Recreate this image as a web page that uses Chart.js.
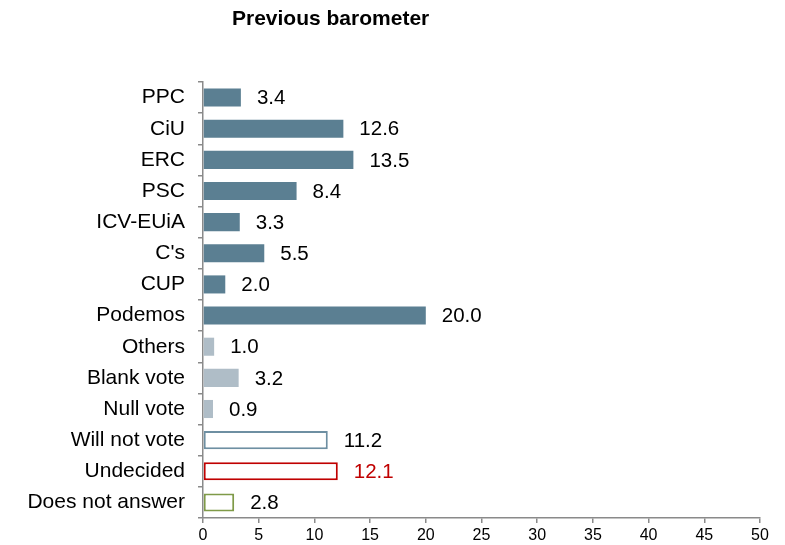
<!DOCTYPE html>
<html>
<head>
<meta charset="utf-8">
<script src="https://cdn.jsdelivr.net/npm/chart.js@4"></script>
<style>
  body { margin: 0; background: #fff; }
  #wrap { position: relative; width: 785px; height: 545px; }
  #title {
    position: absolute; left: 232px; top: 6px;
    font: bold 21px "Liberation Sans", Arial, sans-serif; color: #000;
  }
</style>
</head>
<body>
<div id="wrap">
  <div id="title">Previous barometer</div>
  <canvas id="chart" width="785" height="545"></canvas>
</div>
<script>
// Дані
const categories = ["PPC", "CiU", "ERC", "PSC", "ICV-EUiA", "C's", "CUP", "Podemos",
    "Others", "Blank vote", "Null vote", "Will not vote", "Undecided", "Does not answer"];
const values = [3.4, 12.6, 13.5, 8.4, 3.3, 5.5, 2.0, 20.0, 1.0, 3.2, 0.9, 11.2, 12.1, 2.8];

// Стилі
const dark = "#5B7F92", light = "#AFBDC7";
const fills = [dark, dark, dark, dark, dark, dark, dark, dark, light, light, light, "#fff", "#fff", "#fff"];
const borders = [dark, dark, dark, dark, dark, dark, dark, dark, light, light, light, "#6E8FA2", "#C00000", "#7F9A48"];
const borderWidths = [0, 0, 0, 0, 0, 0, 0, 0, 0, 0, 0, 2, 2, 2];
const labelColors = categories.map(c => c === "Undecided" ? "#C00000" : "#000");

const FONT = '"Liberation Sans", Arial, sans-serif';
const axisGray = "#8A8A8A";

// Підписи значень
const valueLabels = {
    id: "valueLabels",
    afterDatasetsDraw(chart) {
        const ctx = chart.ctx;
        const meta = chart.getDatasetMeta(0);
        ctx.save();
        ctx.font = "20.5px " + FONT;
        ctx.textBaseline = "middle";
        ctx.textAlign = "left";
        meta.data.forEach((bar, i) => {
            ctx.fillStyle = labelColors[i];
            ctx.fillText(values[i].toFixed(1), bar.x + 16, bar.y + 1);
        });
        ctx.restore();
    }
};

new Chart(document.getElementById("chart"), {
    type: "bar",
    data: {
        labels: categories,
        datasets: [{
            data: values,
            backgroundColor: fills,
            borderColor: borders,
            borderWidth: borderWidths,
            borderSkipped: false,
            barPercentage: 0.58,
            categoryPercentage: 1
        }]
    },
    options: {
        indexAxis: "y",
        responsive: false,
        animation: false,
        layout: { padding: { top: 82, right: 25, left: 0, bottom: 0 } },
        plugins: {
            legend: { display: false },
            tooltip: { enabled: false }
        },
        scales: {
            x: {
                min: 0, max: 50,
                ticks: { stepSize: 5, color: "#000", font: { family: FONT, size: 16 }, padding: 3 },
                grid: { drawOnChartArea: false, tickLength: 5, color: axisGray, lineWidth: 1.5 },
                border: { color: axisGray, width: 1.5 },
                afterFit(scale) { scale.height = 27; }
            },
            y: {
                ticks: { color: "#000", font: { family: FONT, size: 21 }, padding: 13, autoSkip: false },
                grid: { drawOnChartArea: false, offset: true, tickLength: 5, color: axisGray, lineWidth: 1.5 },
                border: { color: axisGray, width: 1.5 },
                afterFit(scale) { scale.width = 203; }
            }
        }
    },
    plugins: [valueLabels]
});
</script>
</body>
</html>
